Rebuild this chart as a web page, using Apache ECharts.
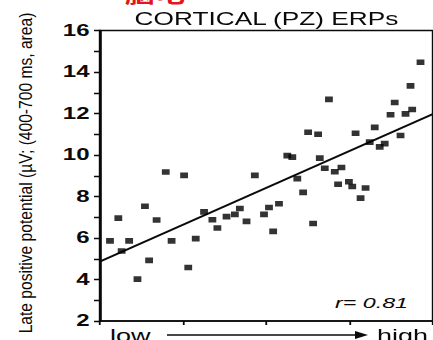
<!DOCTYPE html>
<html>
<head>
<meta charset="utf-8">
<script src="https://cdn.jsdelivr.net/npm/echarts@6/dist/echarts.min.js"></script>
<style>
  html, body { margin: 0; padding: 0; background: #ffffff; overflow: hidden; }
  #wrap { width: 433px; height: 340px; overflow: hidden; position: relative; }
  /* the figure is drawn narrow, then widened horizontally like the printed original */
  #chart { height: 340px; transform-origin: 0 0; }
</style>
</head>
<body>
<div id="wrap"><div id="chart"></div></div>
<script>
// Stimulus level (low → high, arbitrary units 0–4) for each subject
const level = [
  0.12, 0.22, 0.26, 0.35, 0.45, 0.54, 0.59, 0.68, 0.79, 0.86,
  1.01, 1.06, 1.15, 1.25, 1.35, 1.41, 1.52, 1.62, 1.68, 1.76,
  1.86, 1.97, 2.03, 2.08, 2.15, 2.25, 2.31, 2.37, 2.44, 2.50,
  2.56, 2.62, 2.64, 2.70, 2.75, 2.82, 2.86, 2.90, 2.99, 3.03,
  3.07, 3.13, 3.19, 3.24, 3.30, 3.36, 3.42, 3.49, 3.54, 3.61,
  3.67, 3.75, 3.73, 3.85
];
// Late positive potential at Pz (µV; 400–700 ms area)
const lpp = [
  5.86, 6.96, 5.37, 5.86, 4.02, 7.53, 4.92, 6.87, 9.18, 5.86,
  9.02, 4.58, 5.97, 7.26, 6.88, 6.48, 7.03, 7.14, 7.42, 6.80,
  9.02, 7.14, 7.47, 6.32, 7.65, 9.97, 9.90, 8.86, 8.20, 11.10,
  6.70, 11.00, 9.85, 9.36, 12.68, 9.19, 8.59, 9.40, 8.71, 8.48,
  11.05, 7.92, 8.41, 10.62, 11.33, 10.39, 10.55, 11.94, 12.53, 10.94,
  11.98, 12.19, 13.33, 14.47
];
// Least-squares fit line end points
const fitLevel = [0, 4];
const fitLpp = [4.87, 11.97];
// Y-axis tick labels (every 2 µV)
const yTickLabels = [2, 4, 6, 8, 10, 12, 14, 16];

const titleText = 'CORTICAL (PZ) ERPs';
const yName = 'Late positive potential (\u00b5V; (400-700 ms, area)';
const rText = 'r= 0.81';

// horizontal widening factor
const S = 1.5;
const W = 433 / S;
const el = document.getElementById('chart');
el.style.width = W + 'px';
el.style.transform = 'scaleX(' + S + ')';

const chart = echarts.init(el, null, { renderer: 'svg', width: W, height: 340 });

const points = level.map((x, i) => [x, lpp[i]]);
const fit = fitLevel.map((x, i) => [x, fitLpp[i]]);
const ink = '#0a0a0a';

chart.setOption({
  backgroundColor: '#ffffff',
  animation: false,
  grid: {
    left: 100 / S, right: W - 439 / S, top: 30.5, bottom: 19,
    show: true, borderColor: ink, borderWidth: 1.6, backgroundColor: 'transparent'
  },
  xAxis: {
    type: 'value', min: 0, max: 4, interval: 1,
    axisLine: { show: true, onZero: false, lineStyle: { color: ink, width: 1.7 } },
    axisTick: { show: true, inside: false, length: 4, lineStyle: { color: ink, width: 1.2 } },
    axisLabel: { show: false },
    splitLine: { show: false }
  },
  yAxis: {
    type: 'value', min: 2, max: 16, interval: 1,
    axisLine: { show: true, onZero: false, lineStyle: { color: ink, width: 1.7 } },
    axisTick: { show: true, inside: false, length: 4, lineStyle: { color: ink, width: 1.3 } },
    axisLabel: {
      margin: 7,
      color: ink,
      fontFamily: 'Liberation Sans, Arial, sans-serif',
      fontWeight: 'bold',
      fontSize: 16,
      formatter: v => (yTickLabels.indexOf(v) >= 0 ? String(v) : '')
    },
    splitLine: { show: false }
  },
  series: [
    {
      type: 'scatter',
      data: points,
      symbol: 'rect',
      symbolSize: [5.2, 5.6],
      itemStyle: { color: '#000000' },
      z: 3
    },
    {
      type: 'line',
      data: fit,
      symbol: 'none',
      lineStyle: { color: ink, width: 1.8 },
      z: 2
    }
  ],
  graphic: [
    {
      type: 'text', x: 125 / S, y: -16, z: 10,
      style: { text: '脑电', font: 'bold 20px "Noto Sans CJK SC"', fill: '#e3151b', textVerticalAlign: 'top' }
    },
    {
      type: 'text', x: 266.5 / S, y: 19, z: 10,
      style: { text: titleText, font: '17.5px "Liberation Sans", Arial, sans-serif', fill: ink,
               textAlign: 'center', textVerticalAlign: 'middle' }
    },
    {
      type: 'text', x: 26 / S, y: 173, rotation: Math.PI / 2, scaleX: 1.28, z: 10,
      style: { text: yName, font: '12.2px "Liberation Sans", Arial, sans-serif', fill: ink,
               textAlign: 'center', textVerticalAlign: 'middle' }
    },
    {
      type: 'text', x: 335 / S, y: 303, z: 10,
      style: { text: rText, font: 'italic 15.5px "Liberation Sans", Arial, sans-serif', fill: ink,
               textAlign: 'left', textVerticalAlign: 'middle' }
    },
    {
      type: 'text', x: 110 / S, y: 336, z: 10,
      style: { text: 'low', font: '18px "Liberation Sans", Arial, sans-serif', fill: ink,
               textAlign: 'left', textVerticalAlign: 'middle' }
    },
    {
      type: 'text', x: 377 / S, y: 336, z: 10,
      style: { text: 'high', font: '18px "Liberation Sans", Arial, sans-serif', fill: ink,
               textAlign: 'left', textVerticalAlign: 'middle' }
    },
    {
      type: 'line', z: 10,
      shape: { x1: 167 / S, y1: 335, x2: 358 / S, y2: 335 },
      style: { stroke: ink, lineWidth: 1.6 }
    },
    {
      type: 'polygon', z: 10,
      shape: { points: [[355 / S, 331], [368 / S, 335], [355 / S, 339]] },
      style: { fill: ink }
    }
  ]
});
</script>
</body>
</html>
